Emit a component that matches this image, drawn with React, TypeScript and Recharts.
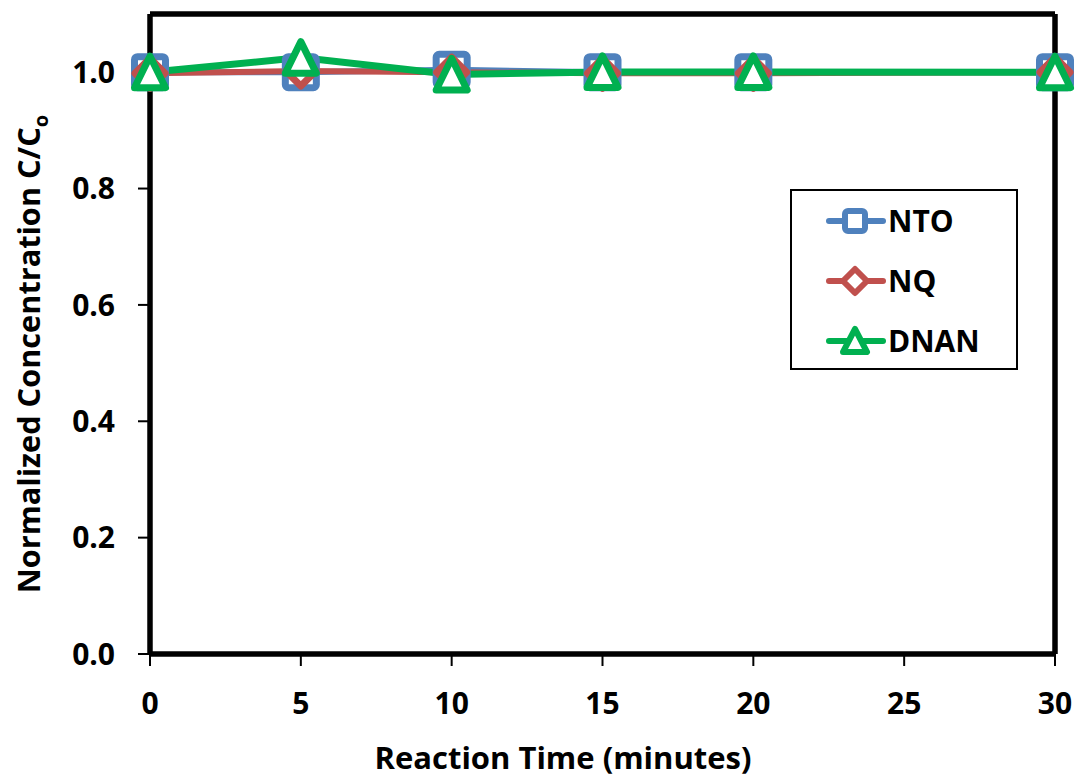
import React from "react";
import { LineChart, Line, XAxis, YAxis } from "recharts";

const times = [0, 5, 10, 15, 20, 30];
const nto = [1.0, 1.0, 1.004, 1.0, 1.0, 1.0];
const nq = [0.998, 1.002, 1.0, 0.998, 0.998, 1.0];
const dnan = [1.0, 1.025, 0.996, 1.0005, 1.0005, 1.0];
const xTicks = [0, 5, 10, 15, 20, 25, 30];
const yTicks = [0, 0.2, 0.4, 0.6, 0.8, 1.0];

const data = times.map((t, i) => ({ t, NTO: nto[i], NQ: nq[i], DNAN: dnan[i] }));

const BLUE = "#4F81BD";
const RED = "#C0504D";
const GREEN = "#00B050";
const FONT = "'Open Sans', Lato, sans-serif";

const Square = (props: any) => {
  const { cx, cy } = props;
  const size = 31;
  if (cx == null || cy == null) return null;
  return (
    <rect key={`s${cx}`} x={cx - size / 2} y={cy - size / 2} width={size} height={size} rx={3}
      fill="#fff" stroke={BLUE} strokeWidth={7} />
  );
};
const Diamond = (props: any) => {
  const { cx, cy } = props;
  const r = 15;
  if (cx == null || cy == null) return null;
  return (
    <path key={`d${cx}`} d={`M${cx},${cy - r} L${cx + r},${cy} L${cx},${cy + r} L${cx - r},${cy} Z`}
      fill="#fff" stroke={RED} strokeWidth={7} strokeLinejoin="round" />
  );
};
const Triangle = (props: any) => {
  const { cx, cy } = props;
  if (cx == null || cy == null) return null;
  return (
    <path key={`t${cx}`} d={`M${cx},${cy - 16} L${cx + 15.5},${cy + 15.5} L${cx - 15.5},${cy + 15.5} Z`}
      fill="#fff" stroke={GREEN} strokeWidth={7} strokeLinejoin="round" />
  );
};

const XLabel = () => (
  <text x={563} y={769} textAnchor="middle" fontFamily={FONT} fontWeight="bold" fontSize={30} fill="#000"
    textLength={377} lengthAdjust="spacingAndGlyphs">
    Reaction Time (minutes)
  </text>
);
const YLabel = () => {
  const x = 40;
  const cy = 354;
  return (
    <text x={x} y={cy} transform={`rotate(-90, ${x}, ${cy})`} textAnchor="middle" fontFamily={FONT}
      fontWeight="bold" fontSize={30} fill="#000">
      <tspan textLength={466} lengthAdjust="spacingAndGlyphs">Normalized Concentration C/C</tspan>
      <tspan fontSize={20} dy={8}>o</tspan>
    </text>
  );
};

const legendItems = [
  { name: "NTO", color: BLUE, kind: "s" },
  { name: "NQ", color: RED, kind: "d" },
  { name: "DNAN", color: GREEN, kind: "t" },
];

const LegendBox = () => (
  <div style={{ position: "absolute", left: 790, top: 189, width: 228, height: 181, border: "2px solid #000", background: "#fff", boxSizing: "border-box", paddingTop: 0 }}>
    {legendItems.map((it) => (
      <div key={it.name} style={{ display: "flex", alignItems: "center", height: 60 }}>
        <svg width={96} height={40} style={{ display: "block" }}>
          <line x1={37} y1={20} x2={91} y2={20} stroke={it.color} strokeWidth={6} strokeLinecap="round" />
          {it.kind === "s" && <rect x={53} y={10} width={20} height={20} rx={3} fill="#fff" stroke={it.color} strokeWidth={6} />}
          {it.kind === "d" && <path d="M63,8 L75,20 L63,32 L51,20 Z" fill="#fff" stroke={it.color} strokeWidth={6} strokeLinejoin="round" />}
          {it.kind === "t" && <path d="M63,8 L75,31 L51,31 Z" fill="#fff" stroke={it.color} strokeWidth={6} strokeLinejoin="round" />}
        </svg>
        <span style={{ fontFamily: FONT, fontWeight: "bold", fontSize: 30, color: "#000", lineHeight: 1 }}>{it.name}</span>
      </div>
    ))}
  </div>
);

export default function App() {
  return (
    <div style={{ position: "absolute", left: 0, top: 0, width: 1077, height: 778, background: "#fff" }}>
      <LineChart width={1077} height={778} data={data} margin={{ top: 13, right: 21, bottom: 0, left: 0 }}>
        <XAxis dataKey="t" type="number" domain={[0, 30]} ticks={xTicks} height={124}
          axisLine={{ stroke: "#000", strokeWidth: 5.5 }} tickLine={{ stroke: "#000", strokeWidth: 2 }}
          tickSize={12} tickMargin={27}
          tick={{ fill: "#000", fontFamily: FONT, fontWeight: "bold", fontSize: 30 }}
          label={<XLabel />} />
        <XAxis xAxisId="top" orientation="top" dataKey="t" type="number" domain={[0, 30]} height={1}
          axisLine={{ stroke: "#000", strokeWidth: 5.5 }} tick={false} tickLine={false} />
        <YAxis type="number" domain={[0, 1.1]} ticks={yTicks} width={150}
          axisLine={{ stroke: "#000", strokeWidth: 5.5 }} tickLine={{ stroke: "#000", strokeWidth: 2 }}
          tickSize={12} tickMargin={23} tickFormatter={(v: number) => v.toFixed(1)}
          tick={{ fill: "#000", fontFamily: FONT, fontWeight: "bold", fontSize: 30 }}
          label={<YLabel />} />
        <YAxis yAxisId="right" orientation="right" type="number" domain={[0, 1.1]} width={1}
          axisLine={{ stroke: "#000", strokeWidth: 5.5 }} tick={false} tickLine={false} />
        <Line dataKey="NTO" stroke={BLUE} strokeWidth={6} dot={<Square />} isAnimationActive={false} />
        <Line dataKey="NQ" stroke={RED} strokeWidth={6} dot={<Diamond />} isAnimationActive={false} />
        <Line dataKey="DNAN" stroke={GREEN} strokeWidth={7} dot={<Triangle />} isAnimationActive={false} />
      </LineChart>
      <LegendBox />
    </div>
  );
}
